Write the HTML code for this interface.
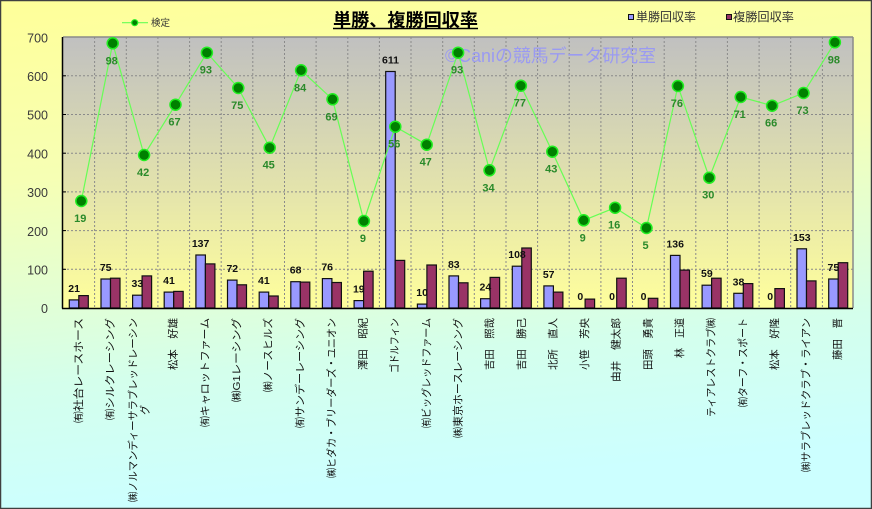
<!DOCTYPE html>
<html><head><meta charset="utf-8"><style>
html,body{margin:0;padding:0;width:872px;height:509px;overflow:hidden;background:#fff}
svg{display:block}
text{font-family:"Liberation Sans","Noto Sans CJK JP",sans-serif}
</style></head><body>
<svg width="872" height="509" viewBox="0 0 872 509" xmlns="http://www.w3.org/2000/svg">
<defs>
<linearGradient id="bg" x1="0" y1="0" x2="0.15" y2="1">
<stop offset="0" stop-color="#ffff99"/>
<stop offset="0.35" stop-color="#f6ffb4"/>
<stop offset="0.75" stop-color="#d4ffec"/>
<stop offset="1" stop-color="#ccffff"/>
</linearGradient>
<linearGradient id="pa" x1="0" y1="0" x2="0" y2="1">
<stop offset="0" stop-color="#c0c0c0"/>
<stop offset="1" stop-color="#ffff9c"/>
</linearGradient>
</defs>
<rect x="0" y="0" width="872" height="509" fill="url(#bg)"/>
<rect x="0.5" y="0.5" width="871" height="508" fill="none" stroke="#404040" stroke-width="1.5"/>

<!-- plot area -->
<rect x="63" y="37" width="790" height="271" fill="url(#pa)"/>
<g stroke="#8a8a8a" stroke-width="1" stroke-dasharray="2,2" fill="none">
<line x1="63" y1="269.3" x2="853" y2="269.3"/>
<line x1="63" y1="230.6" x2="853" y2="230.6"/>
<line x1="63" y1="191.9" x2="853" y2="191.9"/>
<line x1="63" y1="153.2" x2="853" y2="153.2"/>
<line x1="63" y1="114.5" x2="853" y2="114.5"/>
<line x1="63" y1="75.8" x2="853" y2="75.8"/>
<line x1="94.6" y1="37" x2="94.6" y2="308"/>
<line x1="126.3" y1="37" x2="126.3" y2="308"/>
<line x1="157.9" y1="37" x2="157.9" y2="308"/>
<line x1="189.6" y1="37" x2="189.6" y2="308"/>
<line x1="221.2" y1="37" x2="221.2" y2="308"/>
<line x1="252.8" y1="37" x2="252.8" y2="308"/>
<line x1="284.5" y1="37" x2="284.5" y2="308"/>
<line x1="316.1" y1="37" x2="316.1" y2="308"/>
<line x1="347.8" y1="37" x2="347.8" y2="308"/>
<line x1="379.4" y1="37" x2="379.4" y2="308"/>
<line x1="411.0" y1="37" x2="411.0" y2="308"/>
<line x1="442.7" y1="37" x2="442.7" y2="308"/>
<line x1="474.3" y1="37" x2="474.3" y2="308"/>
<line x1="506.0" y1="37" x2="506.0" y2="308"/>
<line x1="537.6" y1="37" x2="537.6" y2="308"/>
<line x1="569.2" y1="37" x2="569.2" y2="308"/>
<line x1="600.9" y1="37" x2="600.9" y2="308"/>
<line x1="632.5" y1="37" x2="632.5" y2="308"/>
<line x1="664.2" y1="37" x2="664.2" y2="308"/>
<line x1="695.8" y1="37" x2="695.8" y2="308"/>
<line x1="727.4" y1="37" x2="727.4" y2="308"/>
<line x1="759.1" y1="37" x2="759.1" y2="308"/>
<line x1="790.7" y1="37" x2="790.7" y2="308"/>
<line x1="822.4" y1="37" x2="822.4" y2="308"/>
</g>
<!-- plot border -->
<line x1="63" y1="37" x2="853" y2="37" stroke="#8a8a8a" stroke-width="1.5"/>
<line x1="853" y1="37" x2="853" y2="308" stroke="#8a8a8a" stroke-width="1.5"/>

<!-- watermark -->
<text x="445" y="62" font-size="18" fill="#9a9af2" textLength="211" lengthAdjust="spacingAndGlyphs">©Caniの競馬データ研究室</text>

<!-- bars -->
<g stroke="#111" stroke-width="1.2">
<g fill="#9999ff">
<rect x="69.3" y="299.9" width="9.5" height="8.1"/>
<rect x="101.0" y="279.0" width="9.5" height="29.0"/>
<rect x="132.6" y="295.2" width="9.5" height="12.8"/>
<rect x="164.2" y="292.1" width="9.5" height="15.9"/>
<rect x="195.9" y="255.0" width="9.5" height="53.0"/>
<rect x="227.5" y="280.1" width="9.5" height="27.9"/>
<rect x="259.2" y="292.1" width="9.5" height="15.9"/>
<rect x="290.8" y="281.7" width="9.5" height="26.3"/>
<rect x="322.4" y="278.6" width="9.5" height="29.4"/>
<rect x="354.1" y="300.6" width="9.5" height="7.4"/>
<rect x="385.7" y="71.5" width="9.5" height="236.5"/>
<rect x="417.4" y="304.1" width="9.5" height="3.9"/>
<rect x="449.0" y="275.9" width="9.5" height="32.1"/>
<rect x="480.6" y="298.7" width="9.5" height="9.3"/>
<rect x="512.3" y="266.2" width="9.5" height="41.8"/>
<rect x="543.9" y="285.9" width="9.5" height="22.1"/>
<rect x="670.5" y="255.4" width="9.5" height="52.6"/>
<rect x="702.1" y="285.2" width="9.5" height="22.8"/>
<rect x="733.8" y="293.3" width="9.5" height="14.7"/>
<rect x="797.0" y="248.8" width="9.5" height="59.2"/>
<rect x="828.7" y="279.0" width="9.5" height="29.0"/>
</g>
<g fill="#993366">
<rect x="78.8" y="295.6" width="9.5" height="12.4"/>
<rect x="110.5" y="278.2" width="9.5" height="29.8"/>
<rect x="142.1" y="275.9" width="9.5" height="32.1"/>
<rect x="173.7" y="291.4" width="9.5" height="16.6"/>
<rect x="205.4" y="263.9" width="9.5" height="44.1"/>
<rect x="237.0" y="284.8" width="9.5" height="23.2"/>
<rect x="268.7" y="296.0" width="9.5" height="12.0"/>
<rect x="300.3" y="282.1" width="9.5" height="25.9"/>
<rect x="331.9" y="282.5" width="9.5" height="25.5"/>
<rect x="363.6" y="271.2" width="9.5" height="36.8"/>
<rect x="395.2" y="260.4" width="9.5" height="47.6"/>
<rect x="426.9" y="265.0" width="9.5" height="43.0"/>
<rect x="458.5" y="282.8" width="9.5" height="25.2"/>
<rect x="490.1" y="277.4" width="9.5" height="30.6"/>
<rect x="521.8" y="248.0" width="9.5" height="60.0"/>
<rect x="553.4" y="292.1" width="9.5" height="15.9"/>
<rect x="585.1" y="299.1" width="9.5" height="8.9"/>
<rect x="616.7" y="278.2" width="9.5" height="29.8"/>
<rect x="648.3" y="298.3" width="9.5" height="9.7"/>
<rect x="680.0" y="270.1" width="9.5" height="37.9"/>
<rect x="711.6" y="278.2" width="9.5" height="29.8"/>
<rect x="743.3" y="283.6" width="9.5" height="24.4"/>
<rect x="774.9" y="288.6" width="9.5" height="19.4"/>
<rect x="806.5" y="280.9" width="9.5" height="27.1"/>
<rect x="838.2" y="262.7" width="9.5" height="45.3"/>
</g>
</g>

<!-- axes -->
<line x1="62.5" y1="37" x2="62.5" y2="308.5" stroke="#000" stroke-width="1.5"/>
<line x1="62" y1="308.5" x2="853" y2="308.5" stroke="#000" stroke-width="1.5"/>
<g stroke="#000" stroke-width="1">
<line x1="62" y1="269.3" x2="66" y2="269.3"/>
<line x1="62" y1="230.6" x2="66" y2="230.6"/>
<line x1="62" y1="191.9" x2="66" y2="191.9"/>
<line x1="62" y1="153.2" x2="66" y2="153.2"/>
<line x1="62" y1="114.5" x2="66" y2="114.5"/>
<line x1="62" y1="75.8" x2="66" y2="75.8"/>
</g>

<!-- y labels -->
<g font-size="12.5" fill="#3a3a3a" text-anchor="end">
<text x="48" y="42.5">700</text>
<text x="48" y="81">600</text>
<text x="48" y="119.5">500</text>
<text x="48" y="158.5">400</text>
<text x="48" y="197">300</text>
<text x="48" y="236">200</text>
<text x="48" y="274.5">100</text>
<text x="48" y="313">0</text>
</g>

<!-- bar labels -->
<g font-size="10.5" font-weight="bold" fill="#111" text-anchor="middle">
<text x="74.1" y="291.9">21</text>
<text x="105.7" y="271.0">75</text>
<text x="137.4" y="287.2">33</text>
<text x="169.0" y="284.1">41</text>
<text x="200.6" y="247.0">137</text>
<text x="232.3" y="272.1">72</text>
<text x="263.9" y="284.1">41</text>
<text x="295.6" y="273.7">68</text>
<text x="327.2" y="270.6">76</text>
<text x="358.8" y="292.6">19</text>
<text x="390.5" y="63.5">611</text>
<text x="422.1" y="296.1">10</text>
<text x="453.8" y="267.9">83</text>
<text x="485.4" y="290.7">24</text>
<text x="517.0" y="258.2">108</text>
<text x="548.7" y="277.9">57</text>
<text x="580.3" y="300">0</text>
<text x="612.0" y="300">0</text>
<text x="643.6" y="300">0</text>
<text x="675.2" y="247.4">136</text>
<text x="706.9" y="277.2">59</text>
<text x="738.5" y="285.3">38</text>
<text x="770.2" y="300">0</text>
<text x="801.8" y="240.8">153</text>
<text x="833.4" y="271.0">75</text>
</g>

<!-- line series -->
<polyline fill="none" stroke="#66ff55" stroke-width="1.2" points="81.3,201 112.7,43.3 144.1,155 175.5,104.7 206.9,52.7 238.3,88 269.7,147.7 301.1,70.3 332.5,99.3 363.9,221 395.3,126.7 426.7,144.7 458.1,52.7 489.5,170.3 520.9,85.7 552.3,151.7 583.7,220.3 615.1,207.7 646.5,228 677.9,86 709.3,177.7 740.7,97 772.1,105.7 803.5,93 834.9,42.3"/>
<g fill="#008000" stroke="#22ee22" stroke-width="1.5">
<circle cx="81.3" cy="201" r="5.5"/>
<circle cx="112.7" cy="43.3" r="5.5"/>
<circle cx="144.1" cy="155" r="5.5"/>
<circle cx="175.5" cy="104.7" r="5.5"/>
<circle cx="206.9" cy="52.7" r="5.5"/>
<circle cx="238.3" cy="88" r="5.5"/>
<circle cx="269.7" cy="147.7" r="5.5"/>
<circle cx="301.1" cy="70.3" r="5.5"/>
<circle cx="332.5" cy="99.3" r="5.5"/>
<circle cx="363.9" cy="221" r="5.5"/>
<circle cx="395.3" cy="126.7" r="5.5"/>
<circle cx="426.7" cy="144.7" r="5.5"/>
<circle cx="458.1" cy="52.7" r="5.5"/>
<circle cx="489.5" cy="170.3" r="5.5"/>
<circle cx="520.9" cy="85.7" r="5.5"/>
<circle cx="552.3" cy="151.7" r="5.5"/>
<circle cx="583.7" cy="220.3" r="5.5"/>
<circle cx="615.1" cy="207.7" r="5.5"/>
<circle cx="646.5" cy="228" r="5.5"/>
<circle cx="677.9" cy="86" r="5.5"/>
<circle cx="709.3" cy="177.7" r="5.5"/>
<circle cx="740.7" cy="97" r="5.5"/>
<circle cx="772.1" cy="105.7" r="5.5"/>
<circle cx="803.5" cy="93" r="5.5"/>
<circle cx="834.9" cy="42.3" r="5.5"/>
</g>
<g font-size="11" font-weight="bold" fill="#2a8a2a" text-anchor="middle">
<text x="80.3" y="222">19</text>
<text x="111.7" y="64.3">98</text>
<text x="143.1" y="176">42</text>
<text x="174.5" y="125.7">67</text>
<text x="205.9" y="73.7">93</text>
<text x="237.3" y="109">75</text>
<text x="268.7" y="168.7">45</text>
<text x="300.1" y="91.3">84</text>
<text x="331.5" y="120.3">69</text>
<text x="362.9" y="242">9</text>
<text x="394.3" y="147.7">56</text>
<text x="425.7" y="165.7">47</text>
<text x="457.1" y="73.7">93</text>
<text x="488.5" y="191.3">34</text>
<text x="519.9" y="106.7">77</text>
<text x="551.3" y="172.7">43</text>
<text x="582.7" y="241.3">9</text>
<text x="614.1" y="228.7">16</text>
<text x="645.5" y="249">5</text>
<text x="676.9" y="107">76</text>
<text x="708.3" y="198.7">30</text>
<text x="739.7" y="118">71</text>
<text x="771.1" y="126.7">66</text>
<text x="802.5" y="114">73</text>
<text x="833.9" y="63.3">98</text>
</g>

<!-- title -->
<text x="333" y="26.5" font-size="18" font-weight="bold" fill="#000" textLength="145" lengthAdjust="spacingAndGlyphs">単勝、複勝回収率</text>
<line x1="333" y1="28.5" x2="478" y2="28.5" stroke="#000" stroke-width="1.5"/>

<!-- legends -->
<line x1="122" y1="22.7" x2="148" y2="22.7" stroke="#66ff55" stroke-width="1.2"/>
<circle cx="134.7" cy="22.7" r="3" fill="#008000" stroke="#22ee22" stroke-width="1.2"/>
<text x="151" y="26" font-size="9.5" fill="#333">検定</text>
<rect x="628.5" y="14.5" width="5" height="5" fill="#9999ff" stroke="#111" stroke-width="1"/>
<text x="636" y="21" font-size="12" fill="#333" textLength="60" lengthAdjust="spacingAndGlyphs">単勝回収率</text>
<rect x="726.5" y="14.5" width="5" height="5" fill="#993366" stroke="#111" stroke-width="1"/>
<text x="733" y="21" font-size="12" fill="#333" textLength="61" lengthAdjust="spacingAndGlyphs">複勝回収率</text>

<!-- x labels -->
<g font-size="10.5" fill="#111" dominant-baseline="central">
<text transform="translate(78.8,423) rotate(-90)" textLength="105" lengthAdjust="spacingAndGlyphs">㈲社台レースホース</text>
<text transform="translate(110.5,420) rotate(-90)" textLength="102" lengthAdjust="spacingAndGlyphs">㈲シルクレーシング</text>
<text transform="translate(133.5,502) rotate(-90)" textLength="184" lengthAdjust="spacingAndGlyphs">㈱ノルマンディーサラブレッドレーシン</text>
<text transform="translate(145.5,415) rotate(-90)" textLength="10" lengthAdjust="spacingAndGlyphs">グ</text>
<text transform="translate(173.7,370) rotate(-90)" textLength="52" lengthAdjust="spacingAndGlyphs">松本　好雄</text>
<text transform="translate(205.4,427) rotate(-90)" textLength="109" lengthAdjust="spacingAndGlyphs">㈲キャロットファーム</text>
<text transform="translate(237.0,402) rotate(-90)" textLength="84" lengthAdjust="spacingAndGlyphs">㈱G1レーシング</text>
<text transform="translate(268.7,392) rotate(-90)" textLength="74" lengthAdjust="spacingAndGlyphs">㈱ノースヒルズ</text>
<text transform="translate(300.3,428) rotate(-90)" textLength="110" lengthAdjust="spacingAndGlyphs">㈲サンデーレーシング</text>
<text transform="translate(331.9,478) rotate(-90)" textLength="160" lengthAdjust="spacingAndGlyphs">㈱ヒダカ・ブリーダーズ・ユニオン</text>
<text transform="translate(363.6,370) rotate(-90)" textLength="52" lengthAdjust="spacingAndGlyphs">澤田　昭紀</text>
<text transform="translate(395.2,373) rotate(-90)" textLength="55" lengthAdjust="spacingAndGlyphs">ゴドルフィン</text>
<text transform="translate(426.9,428) rotate(-90)" textLength="110" lengthAdjust="spacingAndGlyphs">㈲ビッグレッドファーム</text>
<text transform="translate(458.5,438) rotate(-90)" textLength="120" lengthAdjust="spacingAndGlyphs">㈱東京ホースレーシング</text>
<text transform="translate(490.1,370) rotate(-90)" textLength="52" lengthAdjust="spacingAndGlyphs">吉田　照哉</text>
<text transform="translate(521.8,370) rotate(-90)" textLength="52" lengthAdjust="spacingAndGlyphs">吉田　勝己</text>
<text transform="translate(553.4,370) rotate(-90)" textLength="52" lengthAdjust="spacingAndGlyphs">北所　直人</text>
<text transform="translate(585.1,370) rotate(-90)" textLength="52" lengthAdjust="spacingAndGlyphs">小笹　芳央</text>
<text transform="translate(616.7,382) rotate(-90)" textLength="64" lengthAdjust="spacingAndGlyphs">由井　健太郎</text>
<text transform="translate(648.3,370) rotate(-90)" textLength="52" lengthAdjust="spacingAndGlyphs">田頭　勇貴</text>
<text transform="translate(680.0,358) rotate(-90)" textLength="40" lengthAdjust="spacingAndGlyphs">林　正道</text>
<text transform="translate(711.6,417) rotate(-90)" textLength="99" lengthAdjust="spacingAndGlyphs">ティアレストクラブ㈱</text>
<text transform="translate(743.3,407) rotate(-90)" textLength="89" lengthAdjust="spacingAndGlyphs">㈲ターフ・スポート</text>
<text transform="translate(774.9,370) rotate(-90)" textLength="52" lengthAdjust="spacingAndGlyphs">松本　好隆</text>
<text transform="translate(806.5,472) rotate(-90)" textLength="154" lengthAdjust="spacingAndGlyphs">㈱サラブレッドクラブ・ライアン</text>
<text transform="translate(838.2,360) rotate(-90)" textLength="42" lengthAdjust="spacingAndGlyphs">藤田　晋</text>
</g>
</svg>
</body></html>
